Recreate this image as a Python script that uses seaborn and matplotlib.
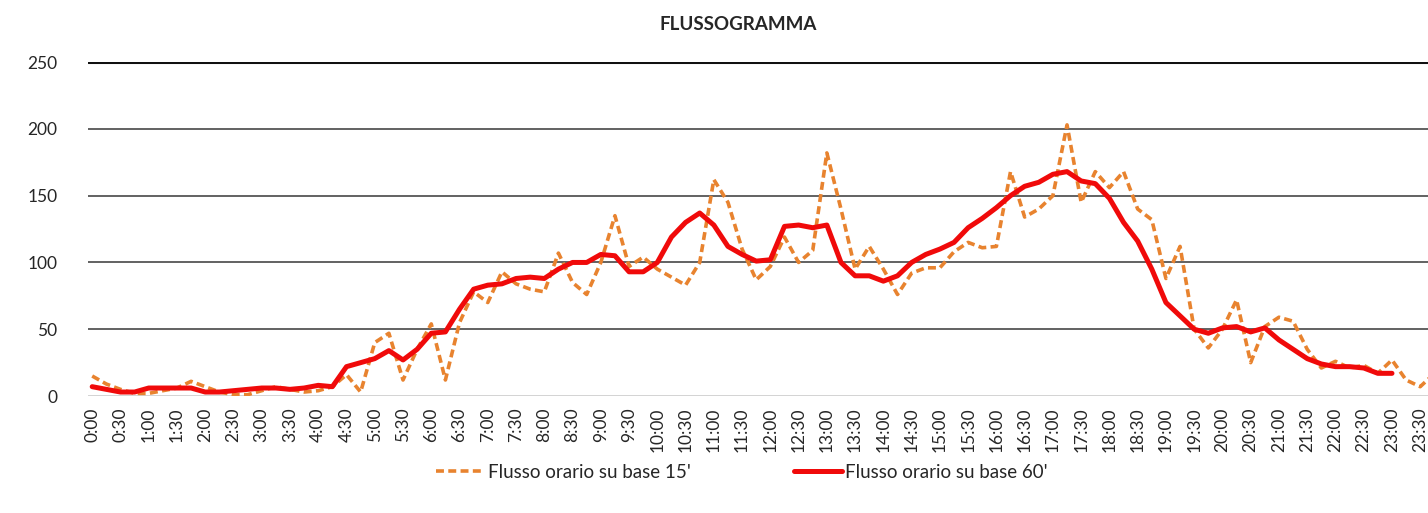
import numpy as np
import pandas as pd
import matplotlib
matplotlib.use("Agg")
import matplotlib.pyplot as plt
import seaborn as sns

# ------------------------------------------
# data: 15-minute slots, 0:00 .. 23:45
# ------------------------------------------
flusso_15 = [15, 9, 5, 2, 2, 4, 6, 11, 7, 3, 1, 1, 4, 7, 5, 3,
             4, 7, 16, 3, 40, 47, 12, 35, 54, 12, 55, 78, 70, 93, 84, 80,
             78, 107, 85, 76, 100, 135, 97, 104, 95, 89, 83, 100, 162, 145, 110, 87,
             97, 119, 100, 109, 182, 140, 95, 112, 95, 76, 92, 96, 96, 108, 115, 111,
             112, 168, 134, 140, 150, 203, 145, 168, 156, 168, 140, 132, 88, 112, 50, 36,
             50, 72, 25, 52, 59, 56, 35, 21, 26, 21, 23, 17, 27, 12, 7, 17]

flusso_60 = [7, 5, 3, 3, 6, 6, 6, 6, 3, 3, 4, 5, 6, 6, 5, 6,
             8, 7, 22, 25, 28, 34, 27, 35, 47, 48, 65, 80, 83, 84, 88, 89,
             88, 95, 100, 100, 106, 105, 93, 93, 100, 119, 130, 137, 128, 112, 106, 101,
             102, 127, 128, 126, 128, 100, 90, 90, 86, 90, 100, 106, 110, 115, 126, 133,
             141, 150, 157, 160, 166, 168, 161, 159, 148, 130, 116, 95, 70, 60, 50, 47,
             51, 52, 48, 51, 42, 35, 28, 24, 22, 22, 21, 17, 17]

orari = [f"{m // 60}:{m % 60:02d}" for m in range(0, 24 * 60, 15)]
tick_labels = orari[::2]

y_ticks = [0, 50, 100, 150, 200, 250]

df15 = pd.DataFrame({"slot": np.arange(len(flusso_15)), "flusso": flusso_15})
df60 = pd.DataFrame({"slot": np.arange(len(flusso_60)), "flusso": flusso_60})

# ------------------------------------------
# plot
# ------------------------------------------
sns.set_style("white")
plt.rcParams["font.family"] = ["Lato", "DejaVu Sans"]

fig = plt.figure(figsize=(14.28, 5.13), dpi=100)
ax = fig.add_axes([0.0616, 0.228, 0.9384, 0.651])

for y in y_ticks[1:-1]:
    ax.axhline(y, color="#555555", lw=1.3, zorder=1)
ax.axhline(250, color="#111111", lw=2.2, zorder=1)
ax.axhline(0, color="#d0d0d0", lw=1.3, zorder=1)

sns.lineplot(data=df15, x="slot", y="flusso", ax=ax, color="#E8832F",
             lw=2.6, linestyle=(0, (2.2, 1.2)), label="Flusso orario su base 15'", zorder=3)
sns.lineplot(data=df60, x="slot", y="flusso", ax=ax, color="#F00A0A",
             lw=3.6, label="Flusso orario su base 60'", zorder=4)

ax.set_xlim(-0.3, 94.55)
ax.set_ylim(0, 250)
ax.set_xticks(np.arange(0, len(orari), 2))
ax.set_xticklabels(tick_labels, rotation=90, fontsize=12.5)
ax.set_yticks(y_ticks)
ax.set_yticklabels([str(v) for v in y_ticks], fontsize=12.5)
ax.tick_params(axis="x", length=0, pad=8)
ax.tick_params(axis="y", length=0, pad=22)
ax.set_xlabel("")
ax.set_ylabel("")
for s in ax.spines.values():
    s.set_visible(False)

fig.text(0.517, 0.952, "FLUSSOGRAMMA", ha="center", va="center",
         fontsize=13.5, fontweight="bold")

ax.legend(loc="center", bbox_to_anchor=(0.488, -0.228), ncol=2, frameon=False,
          fontsize=13.5, handlelength=2.6, columnspacing=5.5, handletextpad=0.15)

fig.savefig("out.png", dpi=100)
